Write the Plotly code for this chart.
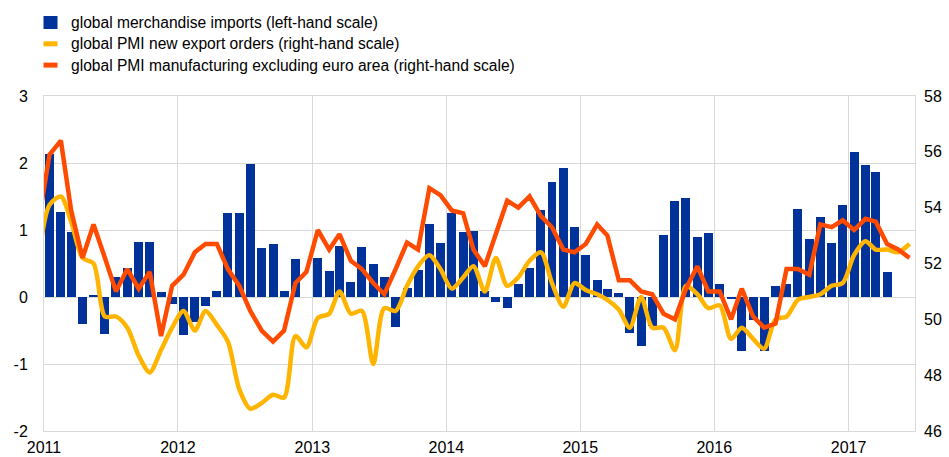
import pandas as pd
import plotly.graph_objects as go

# monthly data, Jan 2011 - Apr 2017 (bars), Dec 2010 - Jun 2017 (lines)
months_bar = pd.date_range("2011-01-01", "2017-04-01", freq="MS") + pd.Timedelta(days=15)
months_line = pd.date_range("2010-12-01", "2017-06-01", freq="MS") + pd.Timedelta(days=15)

imports = [
    2.13, 1.27, 0.97, -0.41, 0.02, -0.55, 0.30, 0.43, 0.82, 0.82, 0.07, -0.10,
    -0.57, -0.37, -0.14, 0.09, 1.25, 1.25, 1.99, 0.73, 0.79, 0.09, 0.56, 0.00,
    0.58, 0.39, 0.76, 0.23, 0.75, 0.50, 0.30, -0.45, 0.13, 0.40, 1.09, 0.81,
    1.25, 0.97, 0.98, 0.09, -0.07, -0.16, 0.19, 0.43, 1.30, 1.71, 1.92, 1.05,
    0.63, 0.26, 0.12, 0.06, -0.53, -0.73, -0.44, 0.92, 1.43, 1.48, 0.89, 0.96,
    0.20, -0.02, -0.80, -0.34, -0.80, 0.17, 0.20, 1.31, 0.87, 1.19, 0.81, 1.37,
    2.17, 1.97, 1.87, 0.37,
]

pmi_export = [
    52.0,
    54.1, 54.4, 53.5, 52.2, 52.0, 50.1, 50.1, 49.7, 48.7, 48.1, 48.9, 49.7,
    50.3, 49.6, 50.3, 49.8, 49.2, 47.5, 46.8, 47.0, 47.3, 47.2, 49.4, 49.0,
    50.05, 50.2, 51.0, 50.2, 50.3, 48.4, 50.4, 50.3, 51.2, 51.9, 52.3, 51.8,
    51.1, 51.5, 51.9, 51.0, 52.2, 51.2, 51.5, 52.1, 52.4, 51.3, 50.45, 51.3,
    51.05, 50.9, 50.7, 50.35, 49.7, 50.8, 49.7, 49.7, 48.9, 51.2, 50.9, 50.4,
    50.5, 49.3, 49.7, 49.3, 48.95, 50.0, 50.1, 50.7, 50.8, 50.9, 51.2, 51.3,
    52.3, 52.8, 52.5, 52.5, 52.4, 52.7,
]

pmi_manuf = [
    53.4,
    55.9, 56.4, 53.9, 52.2, 53.4, 52.2, 51.0, 51.8, 51.1, 51.7, 49.4, 51.2,
    51.6, 52.4, 52.7, 52.7, 51.8, 51.2, 50.3, 49.6, 49.2, 49.6, 51.3, 51.7,
    53.2, 52.5, 53.05, 52.1, 51.8, 51.3, 50.9, 51.8, 52.75, 52.5, 54.7, 54.45,
    53.9, 53.8, 52.5, 51.9, 53.0, 54.25, 54.0, 54.4, 53.7, 53.3, 52.5, 52.4,
    52.7, 53.4, 53.0, 51.4, 51.4, 51.0, 50.9, 50.2, 50.0, 51.1, 51.9, 51.0,
    51.0, 50.0, 51.1, 50.1, 49.7, 49.85, 51.8, 51.8, 51.6, 53.4, 53.3, 53.55,
    53.2, 53.6, 53.5, 52.7, 52.5, 52.2,
]

year_ticks = ["2011", "2012", "2013", "2014", "2015", "2016", "2017"]
left_ticks = [-2, -1, 0, 1, 2, 3]
left_labels = ["-2", "-1", "0", "1", "2", "3"]

legend_items = [
    ("global merchandise imports (left-hand scale)", "#003299", "box"),
    ("global PMI new export orders (right-hand scale)", "#FFB400", "line"),
    ("global PMI manufacturing excluding euro area (right-hand scale)", "#FF4B00", "line"),
]

# plot area on the page: x 44..915, y 96..431
PX0, PX1, PY0, PY1 = 44, 915, 96, 431


def px(x):
    return (x - PX0) / (PX1 - PX0)


def py(y):
    return (PY1 - y) / (PY1 - PY0)


day_ms = 86400000
fig = go.Figure()
fig.add_trace(go.Bar(x=months_bar, y=imports, marker_color="#003299",
                     marker_line_width=0, width=24.5 * day_ms, yaxis="y"))
fig.add_trace(go.Scatter(x=months_line, y=pmi_export, mode="lines",
                         line=dict(color="#FFB400", width=4.5, shape="spline", smoothing=0.8),
                         yaxis="y2"))
fig.add_trace(go.Scatter(x=months_line, y=pmi_manuf, mode="lines",
                         line=dict(color="#FF4B00", width=4.5), yaxis="y2"))

# hand-drawn legend in the top-left corner
for i, (label, color, kind) in enumerate(legend_items):
    yc = 22.5 + i * 21.3
    if kind == "box":
        fig.add_shape(type="rect", xref="paper", yref="paper",
                      x0=px(43.5), x1=px(57.5), y0=py(yc + 6.5), y1=py(yc - 6.5),
                      fillcolor=color, line_width=0)
    else:
        fig.add_shape(type="line", xref="paper", yref="paper",
                      x0=px(43.5), x1=px(57.5), y0=py(yc), y1=py(yc),
                      line=dict(color=color, width=5))
    fig.add_annotation(text=label, xref="paper", yref="paper",
                       x=px(68.5), y=py(yc),
                       xanchor="left", yanchor="middle", showarrow=False,
                       font=dict(size=15.6, color="#000000"))

fig.update_layout(
    width=949, height=457,
    margin=dict(l=PX0, r=949 - PX1, t=PY0, b=457 - PY1),
    paper_bgcolor="white", plot_bgcolor="white",
    showlegend=False, bargap=0,
    font=dict(family="Liberation Sans, Arial", size=16, color="#000000"),
    xaxis=dict(type="date", range=["2011-01-01", "2017-07-01"],
               tickvals=[f"{y}-01-01" for y in year_ticks], ticktext=year_ticks,
               showgrid=True, gridcolor="#d9d9d9", gridwidth=1,
               showline=True, linecolor="#d9d9d9", mirror=True,
               ticks="", ticklabelstandoff=2, automargin=False),
    yaxis=dict(range=[-2, 3], tickvals=left_ticks, ticktext=left_labels,
               showgrid=True, gridcolor="#d9d9d9",
               zeroline=True, zerolinecolor="#d9d9d9", zerolinewidth=1,
               showline=True, linecolor="#d9d9d9", mirror=True,
               ticks="", ticklabelstandoff=12, automargin=False),
    yaxis2=dict(range=[46, 58], dtick=2, overlaying="y", side="right",
                showgrid=False, zeroline=False, ticks="", ticklabelstandoff=8,
                automargin=False),
)

fig.write_html("out.html", config={"displayModeBar": False},
               post_script="document.body.style.margin='0';document.body.style.overflow='hidden';")
